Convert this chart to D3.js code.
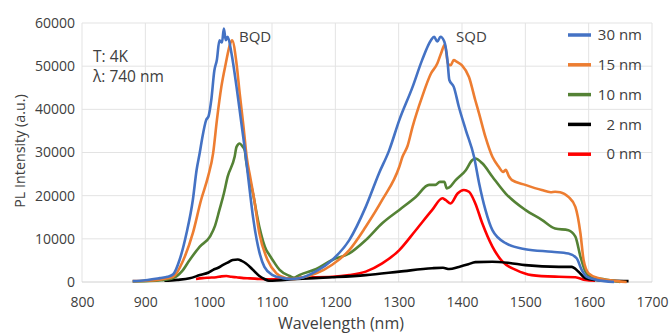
<!DOCTYPE html>
<html>
<head>
<meta charset="utf-8">
<script src="https://cdn.jsdelivr.net/npm/d3@7"></script>
<style>
  body { margin: 0; background: #fff; }
  svg text { font-family: "Open Sans", sans-serif; fill: #404040; }
</style>
</head>
<body>
<svg id="chart" width="670" height="334"></svg>
<script>
// wavelength (nm) / intensity (a.u.)
const wl30 = [880, 900, 923, 935, 944, 954, 965, 975, 981, 986, 990, 996, 1000, 1004, 1009, 1013, 1017, 1021, 1024, 1027, 1030, 1036, 1044, 1051, 1058, 1065, 1070, 1078, 1088, 1101, 1117, 1130, 1143, 1170, 1195, 1222, 1248, 1269, 1285, 1301, 1322, 1337, 1351, 1356, 1361, 1366, 1372, 1377, 1380, 1387, 1395, 1406, 1419, 1427, 1437, 1448, 1469, 1500, 1542, 1568, 1581, 1589, 1597, 1610, 1625, 1640];
const int30 = [200, 400, 900, 1200, 1800, 5100, 11300, 19000, 26000, 30000, 33500, 37500, 38500, 42000, 49000, 51500, 56000, 55500, 58700, 56000, 56800, 53000, 45200, 37500, 29800, 21000, 15100, 8200, 3500, 1600, 900, 700, 850, 2500, 5100, 9700, 17400, 25200, 30500, 37500, 45200, 51400, 56000, 56800, 55700, 56800, 55700, 51400, 46800, 45200, 40600, 35200, 29000, 22900, 16700, 12000, 9000, 7600, 7000, 6600, 5500, 2800, 1200, 600, 200, 0];

const wl15 = [880, 900, 925, 944, 960, 975, 988, 999, 1007, 1013, 1020, 1027, 1034, 1037, 1044, 1049, 1055, 1060, 1066, 1072, 1080, 1093, 1107, 1120, 1130, 1143, 1170, 1195, 1222, 1248, 1274, 1301, 1306, 1314, 1322, 1337, 1351, 1361, 1367, 1373, 1378, 1382, 1387, 1392, 1400, 1411, 1421, 1427, 1437, 1448, 1458, 1465, 1469, 1474, 1479, 1500, 1526, 1540, 1547, 1555, 1568, 1579, 1587, 1592, 1600, 1616, 1631, 1645, 1660];
const int15 = [200, 300, 600, 1200, 5100, 11300, 19000, 24400, 29800, 37500, 45200, 50600, 55200, 56000, 50600, 43700, 36000, 29000, 24000, 19000, 11300, 5100, 2000, 1000, 700, 900, 2000, 4000, 7400, 12800, 19000, 26700, 29000, 31500, 36000, 42900, 48300, 50600, 53000, 55000, 50500, 50200, 51400, 51000, 50200, 47500, 42100, 39000, 33600, 29000, 26700, 25500, 26000, 24500, 23600, 22500, 21300, 20800, 20900, 20800, 19700, 17400, 11300, 5100, 2000, 850, 460, 200, 0];

const wl10 = [880, 900, 925, 944, 958, 970, 986, 1002, 1010, 1017, 1024, 1030, 1041, 1044, 1049, 1053, 1057, 1059, 1070, 1080, 1091, 1095, 1101, 1112, 1128, 1135, 1143, 1170, 1195, 1222, 1248, 1274, 1301, 1327, 1348, 1358, 1365, 1372, 1376, 1380, 1390, 1406, 1416, 1421, 1432, 1448, 1469, 1500, 1526, 1547, 1568, 1579, 1587, 1595, 1605, 1626, 1650];
const int10 = [100, 200, 400, 900, 2500, 5100, 8200, 10500, 13000, 16700, 20500, 24400, 29000, 31300, 32100, 31500, 30500, 28200, 20500, 12800, 7400, 6500, 5100, 2800, 1400, 1000, 1600, 3000, 5100, 6600, 9700, 13600, 16700, 19700, 22500, 22500, 23200, 23200, 21700, 21900, 23600, 25900, 28200, 28600, 27500, 24400, 20500, 16700, 14400, 12400, 12000, 10500, 5900, 2400, 1100, 600, 0];

const wl2 = [930, 950, 970, 986, 1000, 1007, 1015, 1022, 1030, 1038, 1046, 1052, 1059, 1070, 1080, 1088, 1095, 1140, 1195, 1248, 1301, 1353, 1370, 1380, 1395, 1410, 1421, 1448, 1475, 1500, 1553, 1573, 1584, 1595, 1610, 1640, 1663];
const int2 = [300, 500, 850, 1600, 2200, 2800, 3300, 3900, 4500, 5100, 5200, 4900, 4300, 2800, 1400, 700, 300, 700, 1100, 1600, 2400, 3200, 3300, 3000, 3500, 4100, 4600, 4700, 4400, 3900, 3500, 3500, 2400, 850, 460, 250, 200];

const wl0 = [980, 990, 1000, 1012, 1020, 1028, 1036, 1044, 1055, 1065, 1080, 1101, 1143, 1195, 1222, 1248, 1274, 1301, 1327, 1353, 1369, 1374, 1382, 1393, 1403, 1411, 1421, 1432, 1448, 1464, 1485, 1510, 1553, 1579, 1595, 1610];
const int0 = [700, 900, 1000, 1100, 1300, 1400, 1200, 1100, 900, 850, 700, 600, 1000, 1200, 1600, 2400, 4300, 7400, 12000, 16700, 19400, 19000, 18200, 20500, 21300, 20900, 18200, 13600, 8200, 4700, 2800, 1600, 1200, 1100, 460, 300];

const seriesNames = ['30 nm', '15 nm', '10 nm', '2 nm', '0 nm'];
const seriesColors = ['#4472c4', '#ed7d31', '#548235', '#000000', '#ff0000'];
const xTicks = [800, 900, 1000, 1100, 1200, 1300, 1400, 1500, 1600, 1700];
const yTicks = [0, 10000, 20000, 30000, 40000, 50000, 60000];

const series = [
  { name: seriesNames[0], wl: wl30, v: int30 },
  { name: seriesNames[1], wl: wl15, v: int15 },
  { name: seriesNames[2], wl: wl10, v: int10 },
  { name: seriesNames[3], wl: wl2, v: int2 },
  { name: seriesNames[4], wl: wl0, v: int0 }
];

const margin = { top: 23, right: 18, bottom: 52, left: 82 };
const width = 670 - margin.left - margin.right;
const height = 334 - margin.top - margin.bottom;

const svg = d3.select('#chart');
const g = svg.append('g').attr('transform', `translate(${margin.left},${margin.top})`);

const x = d3.scaleLinear().domain([800, 1700]).range([0, width]);
const y = d3.scaleLinear().domain([0, 60000]).range([height, 0]);
const color = d3.scaleOrdinal().domain(seriesNames).range(seriesColors);

// grid
g.append('g').selectAll('line.v')
  .data(xTicks)
  .enter().append('line')
  .attr('x1', (d) => x(d)).attr('x2', (d) => x(d))
  .attr('y1', 0).attr('y2', height)
  .attr('stroke', '#e3e3e3').attr('stroke-width', 1);
g.append('g').selectAll('line.h')
  .data(yTicks)
  .enter().append('line')
  .attr('x1', 0).attr('x2', width)
  .attr('y1', (d) => y(d)).attr('y2', (d) => y(d))
  .attr('stroke', (d) => d === 0 ? '#d0d0d0' : '#e3e3e3').attr('stroke-width', 1);

// axes (labels only)
const xAxis = g.append('g')
  .attr('transform', `translate(0,${height})`)
  .call(d3.axisBottom(x).tickValues(xTicks).tickSize(0).tickPadding(15).tickFormat(d3.format('d')));
const yAxis = g.append('g')
  .call(d3.axisLeft(y).tickValues(yTicks).tickSize(0).tickPadding(7).tickFormat(d3.format('d')));
[xAxis, yAxis].forEach((a) => {
  a.select('.domain').remove();
  a.selectAll('text').style('font-size', '14px').style('font-family', '"Open Sans", sans-serif').attr('fill', '#404040');
});

// lines
const line = d3.line()
  .curve(d3.curveMonotoneX)
  .x((d) => x(d[0]))
  .y((d) => y(d[1]));

const drawOrder = [4, 3, 2, 1, 0];
g.append('g').selectAll('path')
  .data(drawOrder.map((i) => series[i]))
  .enter().append('path')
  .attr('fill', 'none')
  .attr('stroke', (d) => color(d.name))
  .attr('stroke-width', 2.6)
  .attr('stroke-linejoin', 'round')
  .attr('d', (d) => line(d.wl.map((w, i) => [w, d.v[i]])));

// legend
const legend = svg.append('g').selectAll('g')
  .data(series)
  .enter().append('g')
  .attr('transform', (d, i) => `translate(568, ${35 + i * 29.8})`);
legend.append('line')
  .attr('x1', 0).attr('x2', 23)
  .attr('stroke', (d) => color(d.name))
  .attr('stroke-width', 3.5);
legend.append('text')
  .attr('x', 74).attr('y', 0).attr('dy', '0.35em')
  .attr('text-anchor', 'end')
  .style('font-size', '15px')
  .text((d) => d.name);

// annotations
const ann = svg.append('g').style('font-size', '15.5px');
ann.append('text').attr('x', 93).attr('y', 62).text('T: 4K');
ann.append('text').attr('x', 93).attr('y', 82).text('λ: 740 nm');
ann.append('text').attr('x', 239).attr('y', 42).style('font-size', '15px').text('BQD');
ann.append('text').attr('x', 456).attr('y', 42).style('font-size', '15px').text('SQD');

// axis titles
svg.append('text')
  .attr('x', 341).attr('y', 329)
  .attr('text-anchor', 'middle')
  .style('font-size', '16px')
  .text('Wavelength (nm)');
svg.append('text')
  .attr('transform', 'translate(25,151) rotate(-90)')
  .attr('text-anchor', 'middle')
  .style('font-size', '14.3px')
  .text('PL Intensity (a.u.)');
</script>
</body>
</html>
